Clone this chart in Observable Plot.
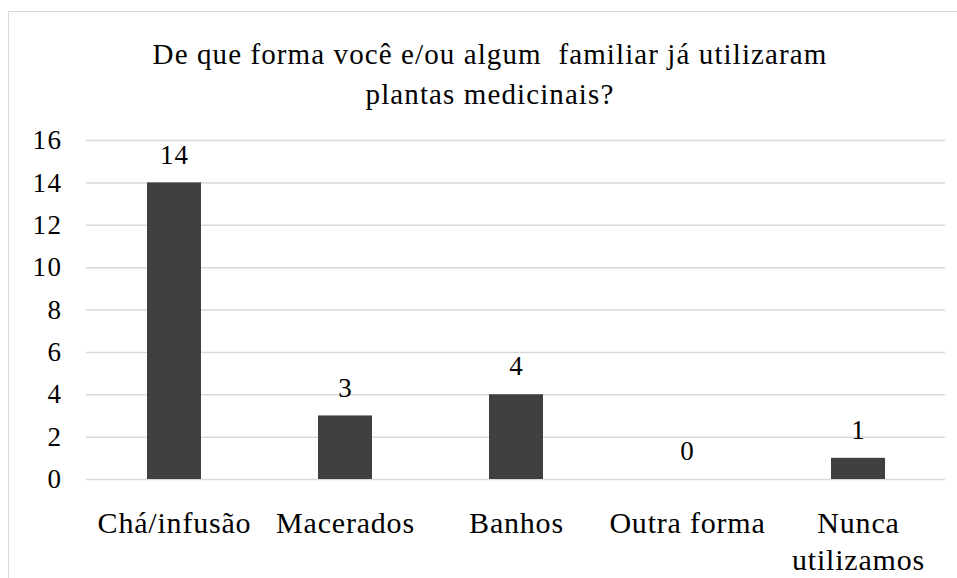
<!DOCTYPE html>
<html>
<head>
<meta charset="utf-8">
<script src="https://cdn.jsdelivr.net/npm/d3@7"></script>
<script src="https://cdn.jsdelivr.net/npm/@observablehq/plot@0.6"></script>
<style>
  html, body { margin: 0; padding: 0; background: #fff; }
  #wrap { position: relative; width: 957px; height: 578px; overflow: hidden; font-family: "Liberation Serif", "Times New Roman", serif; }
  #frame { position: absolute; left: 8px; top: 11px; width: 980px; height: 600px; border-top: 1.5px solid #d9d9d9; border-left: 1.5px solid #d9d9d9; }
  #title { position: absolute; left: 0; top: 34px; width: 980px; text-align: center; font-size: 29px; letter-spacing: 1.1px; line-height: 40px; color: #000; }
  #chart { position: absolute; left: 0; top: 120px; }
  #chart svg text { font-family: "Liberation Serif", "Times New Roman", serif; }
  #chart g[aria-label="x-axis tick label"] text { letter-spacing: 0.8px; }
  #chart g[aria-label="y-axis tick label"] text { letter-spacing: 1.5px; }
  #chart g[aria-label="text"] text { letter-spacing: 1px; }
</style>
</head>
<body>
<div id="wrap">
  <div id="frame"></div>
  <div id="title">De que forma você e/ou algum&nbsp; familiar já utilizaram<br>plantas medicinais?</div>
  <div id="chart"></div>
</div>
<script>
const categories = ["Chá/infusão", "Macerados", "Banhos", "Outra forma", "Nunca utilizamos"];
const values = [14, 3, 4, 0, 1];
const tickLabels = ["Chá/infusão", "Macerados", "Banhos", "Outra forma", "Nunca\nutilizamos"];
const yTicks = [0, 2, 4, 6, 8, 10, 12, 14, 16];

const data = categories.map((c, i) => ({category: c, value: values[i], label: tickLabels[i]}));
const labelOf = new Map(data.map(d => [d.category, d.label]));

const chart = Plot.plot({
  width: 957,
  height: 458,
  marginLeft: 86,
  marginRight: 12,
  marginTop: 20,
  marginBottom: 99,
  style: { fontFamily: "'Liberation Serif', 'Times New Roman', serif", fontSize: "27px", color: "#000", background: "transparent" },
  x: { domain: categories, paddingInner: 0.686, paddingOuter: 0.343, label: null },
  y: { domain: [0, 16], label: null },
  marks: [
    Plot.gridY(yTicks, { stroke: "#d9d9d9", strokeOpacity: 1, strokeWidth: 1.5 }),
    Plot.axisY(yTicks, { tickSize: 0, tickPadding: 24, fontSize: 27, label: null, fill: "#000" }),
    Plot.axisX({ tickSize: 0, tickPadding: 27, fontSize: 30, label: null, fill: "#000", lineHeight: 1.23, tickFormat: d => labelOf.get(d) }),
    Plot.barY(data, { x: "category", y: "value", fill: "#404040" }),
    Plot.text(data, { x: "category", y: "value", text: d => String(d.value), dy: -28, lineAnchor: "middle", fontSize: 27, fill: "#000" })
  ]
});
document.getElementById("chart").appendChild(chart);
</script>
</body>
</html>
